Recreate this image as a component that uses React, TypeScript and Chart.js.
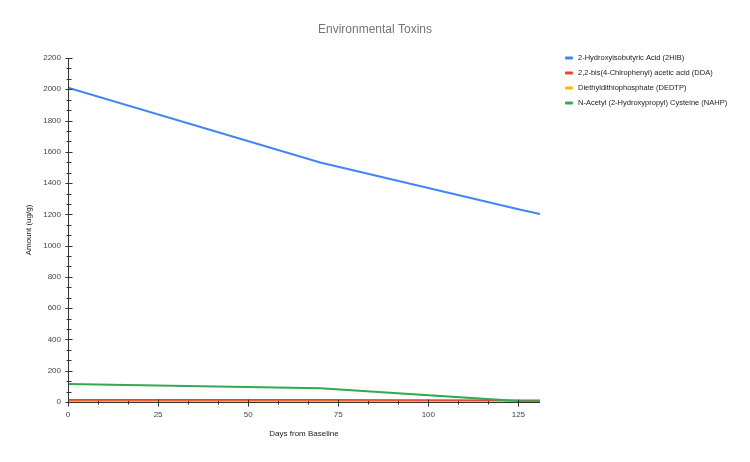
import { useEffect, useRef } from "react";
import { Chart, registerables } from "chart.js";

Chart.register(...registerables);

// ---- data ----
const days = [0, 70, 125, 131];
const hib2 = [2010, 1532, 1233, 1202];
const dda = [13, 12, 10, 9];
const dedtp = [1, 1, 0.5, 0.5];
const nahp = [115, 88, 6, 5];

const seriesNames = [
  "2-Hydroxyisobutyric Acid (2HIB)",
  "2,2-bis(4-Chlrophenyl) acetic acid (DDA)",
  "Diethyldithiophosphate (DEDTP)",
  "N-Acetyl (2-Hydroxypropyl) Cysteine (NAHP)",
];
const seriesColors = ["#4285F4", "#EA4335", "#FBBC04", "#34A853"];
const seriesValues = [hib2, dda, dedtp, nahp];

const xTicks = [0, 25, 50, 75, 100, 125];
const yTicks = [0, 200, 400, 600, 800, 1000, 1200, 1400, 1600, 1800, 2000, 2200];
const xMax = 131;
const yMax = 2200;

const chartTitle = "Environmental Toxins";
const xTitle = "Days from Baseline";
const yTitle = "Amount (ug/g)";

const FONT = "Arial, 'Liberation Sans', sans-serif";

function minorValues(ticks: number[], parts: number, max: number) {
  const out: { v: number; major: boolean }[] = [];
  for (let i = 0; i < ticks.length; i++) {
    out.push({ v: ticks[i], major: true });
    const step = i + 1 < ticks.length ? ticks[i + 1] - ticks[i] : ticks[1] - ticks[0];
    for (let k = 1; k < parts; k++) {
      const v = ticks[i] + (step * k) / parts;
      if (v <= max) out.push({ v, major: false });
    }
  }
  return out;
}

const decorPlugin = {
  id: "decor",
  afterDatasetsDraw(chart: any) {
    const { ctx, chartArea: a, scales } = chart;
    const xs = scales.x;
    const ys = scales.y;
    ctx.save();
    ctx.strokeStyle = "#333333";
    ctx.lineWidth = 1;
    const ax = Math.round(a.left) + 0.5;
    const ay = Math.round(a.bottom) + 0.5;
    ctx.beginPath();
    ctx.moveTo(ax, a.top);
    ctx.lineTo(ax, a.bottom + 1);
    ctx.moveTo(a.left, ay);
    ctx.lineTo(a.right, ay);
    for (const t of minorValues(yTicks, 3, yMax)) {
      const py = Math.round(ys.getPixelForValue(t.v)) + 0.5;
      const l = t.major ? 3 : 2;
      const r = t.major ? 3 : 2;
      ctx.moveTo(ax - l, py);
      ctx.lineTo(ax + r + 1, py);
    }
    for (const t of minorValues(xTicks, 3, xMax)) {
      const px = Math.round(xs.getPixelForValue(t.v)) + 0.5;
      const up = t.major ? 3 : 1.5;
      const dn = t.major ? 4 : 2;
      ctx.moveTo(px, ay - up);
      ctx.lineTo(px, ay + dn);
    }
    ctx.stroke();
    ctx.restore();
  },
  afterDraw(chart: any) {
    const { ctx, chartArea: a } = chart;
    ctx.save();
    ctx.fillStyle = "#757575";
    ctx.font = `12px ${FONT}`;
    ctx.textAlign = "center";
    ctx.textBaseline = "middle";
    ctx.fillText(chartTitle, 375, 30);
    ctx.fillStyle = "#222222";
    ctx.font = `8px ${FONT}`;
    ctx.fillText(xTitle, (a.left + a.right) / 2, 434);
    ctx.save();
    ctx.translate(29, (a.top + a.bottom) / 2);
    ctx.rotate(-Math.PI / 2);
    ctx.fillText(yTitle, 0, 0);
    ctx.restore();
    ctx.font = `7.5px ${FONT}`;
    ctx.textAlign = "left";
    for (let i = 0; i < seriesNames.length; i++) {
      const cy = 58 + i * 15;
      ctx.fillStyle = seriesColors[i];
      ctx.beginPath();
      ctx.roundRect(565, cy - 1.5, 8, 3, 1);
      ctx.fill();
      ctx.fillStyle = "#222222";
      ctx.fillText(seriesNames[i], 578, cy);
    }
    ctx.restore();
  },
};

export default function App() {
  const ref = useRef<HTMLCanvasElement | null>(null);
  useEffect(() => {
    if (!ref.current) return;
    const chart = new Chart(ref.current, {
      type: "line",
      data: {
        datasets: seriesNames.map((name, i) => ({
          label: name,
          data: days.map((d, j) => ({ x: d, y: seriesValues[i][j] })),
          borderColor: seriesColors[i],
          backgroundColor: seriesColors[i],
          borderWidth: 2,
          pointRadius: 0,
          tension: 0,
          fill: false,
          order: seriesNames.length - i,
        })),
      },
      options: {
        animation: false,
        responsive: false,
        maintainAspectRatio: false,
        layout: { padding: { top: 58, right: 210, left: 0, bottom: 0 } },
        plugins: {
          legend: { display: false },
          title: { display: false },
          tooltip: { enabled: false },
        },
        scales: {
          x: {
            type: "linear",
            min: 0,
            max: xMax,
            grid: { display: false, drawTicks: false, tickLength: 0 },
            border: { display: false },
            afterBuildTicks: (s: any) => {
              s.ticks = xTicks.map((v) => ({ value: v }));
            },
            afterFit: (s: any) => {
              s.height = 60;
            },
            ticks: {
              padding: 8,
              maxRotation: 0,
              color: "#444444",
              font: { family: FONT, size: 8 },
              callback: (v: any) => String(v),
            },
          },
          y: {
            type: "linear",
            min: 0,
            max: yMax,
            grid: { display: false, drawTicks: false, tickLength: 0 },
            border: { display: false },
            afterBuildTicks: (s: any) => {
              s.ticks = yTicks.map((v) => ({ value: v }));
            },
            afterFit: (s: any) => {
              s.width = 68;
            },
            ticks: {
              padding: 7,
              color: "#444444",
              font: { family: FONT, size: 8 },
              callback: (v: any) => String(v),
            },
          },
        },
      },
      plugins: [decorPlugin],
    });
    return () => chart.destroy();
  }, []);
  return (
    <div style={{ position: "absolute", left: 0, top: 0, width: 750, height: 462, background: "#fff" }}>
      <canvas ref={ref} width={750} height={462} />
    </div>
  );
}
